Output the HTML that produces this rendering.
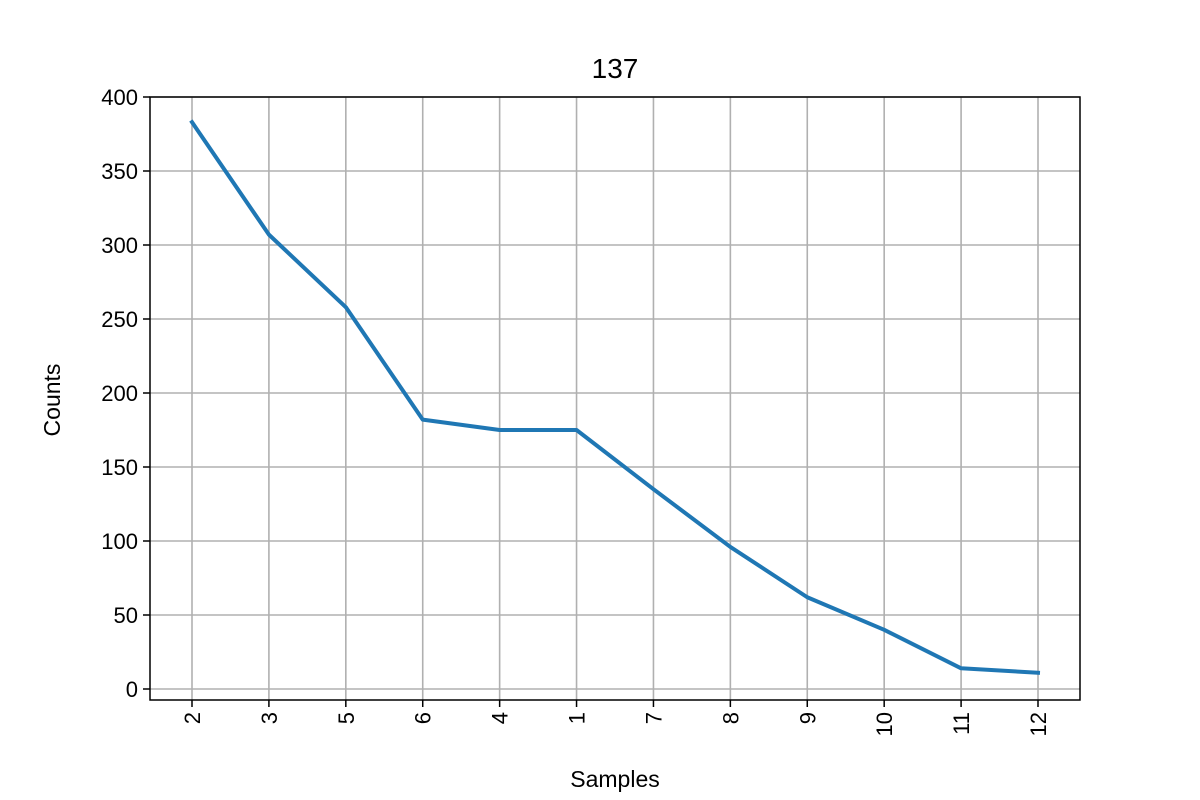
<!DOCTYPE html>
<html><head><meta charset="utf-8"><style>
html,body{margin:0;padding:0;background:#fff;}
svg{display:block;font-family:"Liberation Sans","DejaVu Sans",sans-serif;}
</style></head><body>
<svg id="chart" width="1200" height="800" viewBox="0 0 1200 800">
<rect x="0" y="0" width="1200" height="800" fill="#fff"/>
<g id="grid"></g>
<g id="ticks"></g>
<polyline id="line" fill="none" stroke="#1f77b4" stroke-width="4" stroke-linejoin="round" stroke-linecap="square"/>
<rect x="150" y="97" width="930" height="603" fill="none" stroke="#000" stroke-width="1.5"/>
<text x="615" y="78" font-size="28" text-anchor="middle">137</text>
<text x="615" y="787" font-size="23" text-anchor="middle">Samples</text>
<text x="0" y="0" font-size="23" text-anchor="middle" transform="translate(60,400) rotate(-90)">Counts</text>
</svg>
<script>
const categories = ["2","3","5","6","4","1","7","8","9","10","11","12"];
const counts = [383, 307, 258, 182, 175, 175, 135, 96, 62, 40, 14, 11];
const yTicks = [0, 50, 100, 150, 200, 250, 300, 350, 400];

const NS = "http://www.w3.org/2000/svg";
const plotLeft = 150, plotRight = 1080, plotTop = 97, plotBottom = 700;
const xFirst = 192, xLast = 1038;
const yZeroPx = 689, yMaxPx = 97;
function xScale(i){ return xFirst + i * (xLast - xFirst) / (categories.length - 1); }
function yScale(v){ return yZeroPx - v * (yZeroPx - yMaxPx) / 400; }

const grid = document.getElementById("grid");
const ticks = document.getElementById("ticks");
function mk(tag, attrs, parent){
  const e = document.createElementNS(NS, tag);
  for (const k in attrs) e.setAttribute(k, attrs[k]);
  parent.appendChild(e);
  return e;
}
categories.forEach((c, i) => {
  const x = xScale(i);
  const g = mk("line", {x1:x, x2:x, y1:plotTop, y2:plotBottom, stroke:"#b0b0b0", "stroke-width":1.6}, grid);
  
  
  const t = mk("line", {x1:x, x2:x, y1:plotBottom, y2:plotBottom+7, stroke:"#000", "stroke-width":1.5}, ticks);
  
  
  const lb = mk("text", {"font-size":22, "text-anchor":"end", transform:`translate(${x+8},${plotBottom+12}) rotate(-90)`}, ticks);
  lb.textContent = c;
  
  
});
yTicks.forEach(v => {
  const y = yScale(v);
  const g = mk("line", {x1:plotLeft, x2:plotRight, y1:y, y2:y, stroke:"#b0b0b0", "stroke-width":1.6}, grid);
  
  
  const t = mk("line", {x1:plotLeft-7, x2:plotLeft, y1:y, y2:y, stroke:"#000", "stroke-width":1.5}, ticks);
  
  
  const lb = mk("text", {x:plotLeft-12, y:y+8, "font-size":22, "text-anchor":"end"}, ticks);
  lb.textContent = v;
  
  
});
document.getElementById("line").setAttribute("points",
  counts.map((v, i) => xScale(i) + "," + yScale(v)).join(" "));
</script>
</body></html>
